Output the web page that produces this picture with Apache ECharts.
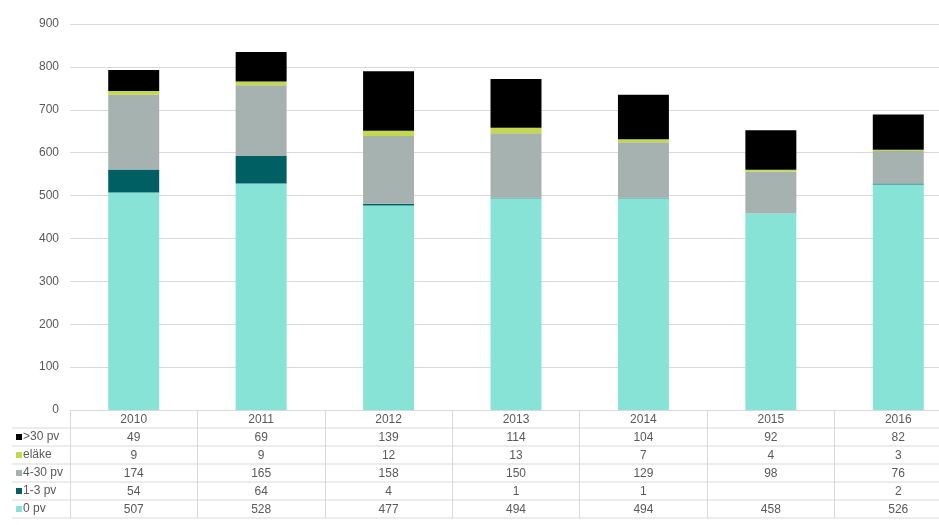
<!DOCTYPE html>
<html>
<head>
<meta charset="utf-8">
<script src="https://cdn.jsdelivr.net/npm/echarts@6/dist/echarts.min.js"></script>
<style>html,body{margin:0;padding:0;background:#fff}#c{width:939px;height:525px}</style>
</head>
<body>
<div id="c"></div>
<script>
var years = ['2010','2011','2012','2013','2014','2015','2016'];
var pv0 = [507, 528, 477, 494, 494, 458, 526];
var pv1_3 = [54, 64, 4, 1, 1, null, 2];
var pv4_30 = [174, 165, 158, 150, 129, 98, 76];
var elake = [9, 9, 12, 13, 7, 4, 3];
var pv30 = [49, 69, 139, 114, 104, 92, 82];
var yTicks = [0, 100, 200, 300, 400, 500, 600, 700, 800, 900];

var names = ['0 pv', '1-3 pv', '4-30 pv', 'eläke', '>30 pv'];
var colors = ['#86E3D6', '#005F62', '#A5B2AF', '#C3D94B', '#000000'];
var seriesData = [pv0, pv1_3, pv4_30, elake, pv30];

var W = 939, H = 525;
var gridLeft = 70, gridWidth = 892, gridTop = 24, gridBottom = 115;
var rowH = 18;
var axisY = H - gridBottom;
var font = 'Liberation Sans, Arial, sans-serif';
var textColor = '#595959';
var lineColor = '#D9D9D9';

var tableRows = [pv30, elake, pv4_30, pv1_3, pv0];
var tableNames = ['>30 pv', 'eläke', '4-30 pv', '1-3 pv', '0 pv'];
var tableColors = ['#000000', '#C3D94B', '#A5B2AF', '#005F62', '#86E3D6'];

var xAxes = [{
  type: 'category', data: years, gridIndex: 0, position: 'bottom',
  axisLine: {show: true, lineStyle: {color: lineColor}},
  axisTick: {show: true, interval: 0, length: rowH * 6, lineStyle: {color: lineColor}},
  axisLabel: {color: textColor, fontSize: 12, fontFamily: font, margin: 4, interval: 0}
}];
tableRows.forEach(function (row, r) {
  xAxes.push({
    type: 'category', gridIndex: 0, position: 'bottom', offset: rowH * (r + 1),
    data: row.map(function (v) { return v == null ? '' : String(v); }),
    axisLine: {show: false}, axisTick: {show: false},
    axisLabel: {color: textColor, fontSize: 12, fontFamily: font, margin: 4, interval: 0}
  });
});

var graphics = [];
for (var i = 1; i <= 6; i++) {
  graphics.push({
    type: 'line', silent: true,
    shape: {x1: 12, y1: axisY + rowH * i, x2: W, y2: axisY + rowH * i},
    style: {stroke: lineColor, lineWidth: 1}
  });
}
tableNames.forEach(function (nm, r) {
  var cy = axisY + rowH * (r + 1) + rowH / 2;
  graphics.push({
    type: 'rect', silent: true,
    shape: {x: 16, y: cy - 3, width: 6, height: 6},
    style: {fill: tableColors[r]}
  });
  graphics.push({
    type: 'text', silent: true, x: 23, y: cy,
    style: {text: nm, fill: textColor, font: '12px ' + font, textVerticalAlign: 'middle', verticalAlign: 'middle'}
  });
});

var option = {
  animation: false,
  backgroundColor: '#fff',
  textStyle: {fontFamily: font},
  grid: {left: gridLeft, width: gridWidth, top: gridTop, bottom: gridBottom, containLabel: false, outerBoundsMode: 'none'},
  xAxis: xAxes,
  yAxis: {
    type: 'value', min: 0, max: 900, interval: 100,
    axisLine: {show: false}, axisTick: {show: false},
    splitLine: {lineStyle: {color: lineColor}},
    axisLabel: {color: textColor, fontSize: 12, fontFamily: font, margin: 11}
  },
  graphic: graphics,
  series: seriesData.map(function (d, k) {
    return {
      name: names[k], type: 'bar', stack: 'all', barWidth: '40%',
      xAxisIndex: 0, data: d, itemStyle: {color: colors[k]}
    };
  })
};
var chart = echarts.init(document.getElementById('c'), null, {renderer: 'canvas'});
chart.setOption(option);
</script>
</body>
</html>
